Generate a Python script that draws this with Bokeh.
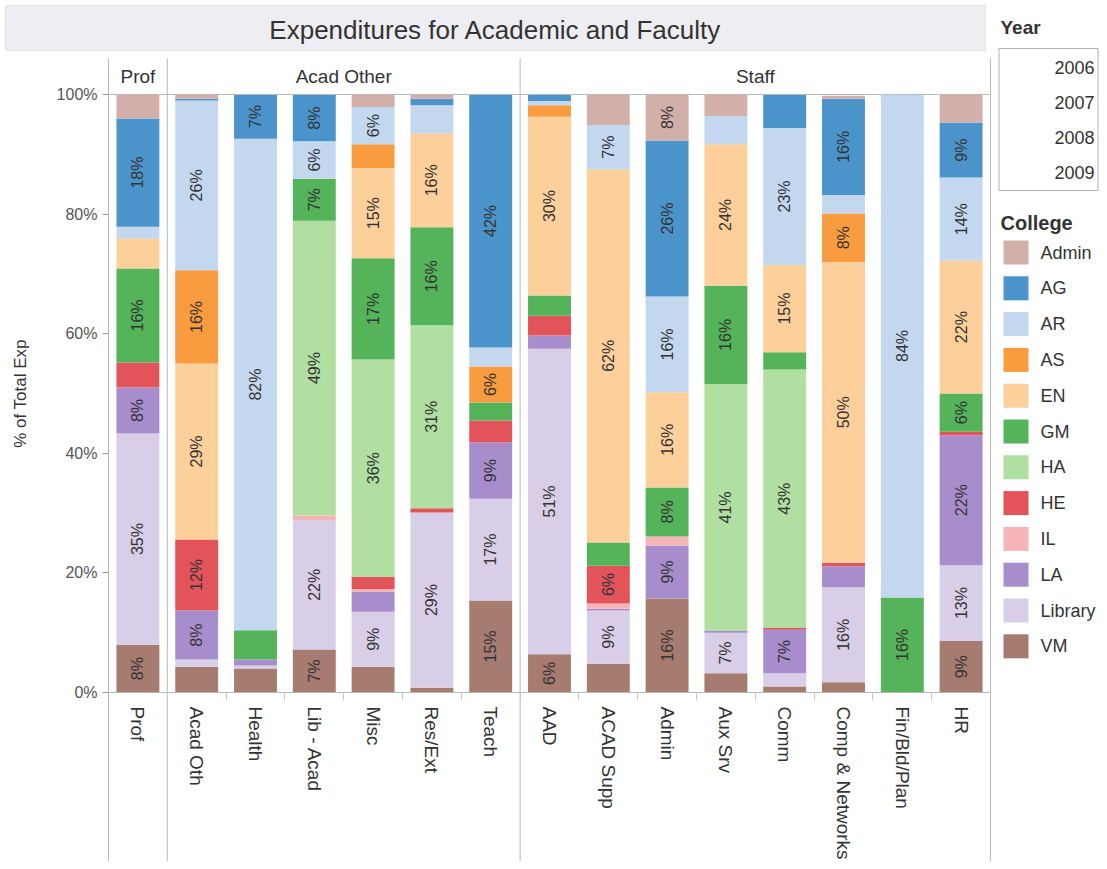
from math import pi
from bokeh.plotting import figure
from bokeh.models import ColumnDataSource, Range1d, FixedTicker, PrintfTickFormatter
from bokeh.core.properties import value
from bokeh.embed import file_html
from bokeh.resources import INLINE

# ---------------- data ----------------
categories = ["Prof", "Acad Oth", "Health", "Lib - Acad", "Misc", "Res/Ext", "Teach",
              "AAD", "ACAD Supp", "Admin", "Aux Srv", "Comm", "Comp & Networks",
              "Fin/Bld/Plan", "HR"]
group_names = ["Prof", "Acad Other", "Staff"]
group_sizes = [1, 6, 8]

colleges = ["Admin", "AG", "AR", "AS", "EN", "GM", "HA", "HE", "IL", "LA", "Library", "VM"]
colors = ["#d3afa9", "#4b93cb", "#c3d8ef", "#f99c40", "#fdcf9b", "#55b35a",
          "#b1dfa2", "#e3545a", "#f6b4b9", "#a88dcc", "#d9cee7", "#a67b70"]

# % of total expenditure, in category order
VM      = [8.0, 4.3, 4.0, 7.2, 4.3, 0.8, 15.4, 6.4, 4.8, 15.7, 3.2, 1.0, 1.7, 0.0, 8.6]
Library = [35.3, 1.2, 0.5, 21.6, 9.2, 29.3, 17.0, 51.1, 8.9, 0.0, 6.8, 2.2, 15.9, 0.0, 12.7]
LA      = [7.7, 8.2, 1.0, 0.0, 3.3, 0.0, 9.4, 2.2, 0.3, 8.9, 0.3, 7.3, 3.5, 0.0, 21.7]
IL      = [0.0, 0.0, 0.0, 0.8, 0.5, 0.0, 0.0, 0.0, 0.9, 1.5, 0.0, 0.0, 0.0, 0.0, 0.0]
HE      = [4.2, 11.9, 0.0, 0.0, 2.0, 0.7, 3.7, 3.3, 6.3, 0.0, 0.0, 0.3, 0.6, 0.0, 0.6]
HA      = [0.0, 0.0, 0.0, 49.3, 36.4, 30.6, 0.0, 0.0, 0.0, 0.0, 41.3, 43.2, 0.0, 0.0, 0.0]
GM      = [15.7, 0.0, 4.9, 7.0, 16.9, 16.4, 3.0, 3.4, 3.9, 8.2, 16.4, 2.9, 0.0, 15.9, 6.4]
EN      = [5.0, 29.4, 0.0, 0.0, 15.1, 15.7, 0.0, 29.9, 62.4, 15.9, 23.7, 14.6, 50.3, 0.0, 22.2]
AS      = [0.0, 15.6, 0.0, 0.0, 4.0, 0.0, 6.0, 1.9, 0.0, 0.0, 0.0, 0.0, 8.1, 0.0, 0.0]
AR      = [2.0, 28.4, 82.2, 6.3, 6.2, 4.7, 3.2, 0.7, 7.4, 16.0, 4.7, 22.9, 3.1, 84.1, 13.9]
AG      = [18.1, 0.3, 7.4, 7.7, 0.0, 1.1, 42.3, 1.1, 0.0, 26.1, 0.0, 5.6, 16.1, 0.0, 9.2]
Admin   = [4.0, 0.7, 0.0, 0.0, 2.0, 0.7, 0.0, 0.0, 5.0, 7.7, 3.6, 0.0, 0.5, 0.0, 4.7]

y_ticks = [0, 20, 40, 60, 80, 100]
years = ["2006", "2007", "2008", "2009"]
title_text = "Expenditures for Academic and Faculty"
y_title = "% of Total Exp"
label_overrides = {("Acad Oth", "AR"): "26%"}
label_min = 5.9

values = {"Admin": Admin, "AG": AG, "AR": AR, "AS": AS, "EN": EN, "GM": GM, "HA": HA,
          "HE": HE, "IL": IL, "LA": LA, "Library": Library, "VM": VM}

# ---------------- layout (page pixels) ----------------
W, H = 1099, 861
N = len(categories)
FR_L, FR_R = 108, 990         # bar area left/right
FR_T, FR_B = 94, 692          # 100% / 0% lines
HEAD_T = 58                   # top of group header band
SLOT = (FR_R - FR_L) / N
PCT = (FR_B - FR_T) / 100.0


def X(px):
    return (px - FR_L) / SLOT


def Y(py):
    return (FR_B - py) / PCT


FONT_NAME = "Liberation Sans"
FONT = value(FONT_NAME)
LINE = "#b9b9b9"
TXT = "#333333"

p = figure(width=W, height=H, x_range=Range1d(X(0), X(W)), y_range=Range1d(Y(H), Y(0)),
           output_backend="svg", toolbar_location=None, min_border=0,
           background_fill_color="white", border_fill_color="white")
p.title.visible = False
p.outline_line_color = None
p.xgrid.visible = False
p.ygrid.visible = False

# ---- bars
xc = [i + 0.5 for i in range(N)]
stack_order = list(reversed(colleges))  # bottom -> top
stack_colors = list(reversed(colors))
src = ColumnDataSource(dict(x=xc, **values))
p.vbar_stack(stack_order, x="x", width=0.73, color=stack_colors, line_color=None, source=src)

# ---- segment labels
lx, ly, lt = [], [], []
for i, cat in enumerate(categories):
    base = 0.0
    for c in stack_order:
        v = values[c][i]
        if v >= label_min:
            lx.append(xc[i])
            ly.append(base + v / 2)
            lt.append(label_overrides.get((cat, c), f"{round(v)}%"))
        base += v
p.text(x="x", y="y", text="t", source=ColumnDataSource(dict(x=lx, y=ly, t=lt)),
       angle=pi / 2, text_align="center", text_baseline="middle",
       text_font=FONT, text_font_size="16px", text_color=TXT)

# ---- group headers and separator lines
hx, ht, bounds = [], [], [0]
pos = 0
for name, n in zip(group_names, group_sizes):
    hx.append(pos + n / 2)
    ht.append(name)
    pos += n
    bounds.append(pos)
p.text(x=hx, y=[(100 + Y(HEAD_T)) / 2] * len(hx), text=ht, text_align="center",
       text_baseline="middle", text_font=FONT, text_font_size="19px", text_color=TXT)
seps = bounds[1:]
p.segment(x0=seps, x1=seps, y0=[Y(HEAD_T)] * len(seps), y1=[Y(H)] * len(seps),
          line_color=LINE, line_width=1)
p.segment(x0=[0], x1=[N], y0=[100], y1=[100], line_color=LINE, line_width=1)

# ---- axes (drawn inside the canvas at fixed data locations)
yax = p.yaxis[0]
yax.fixed_location = 0
yax.bounds = (Y(H), Y(HEAD_T))
yax.ticker = FixedTicker(ticks=y_ticks)
yax.formatter = PrintfTickFormatter(format="%d%%")
yax.major_label_text_font = FONT_NAME
yax.major_label_text_font_size = "16px"
yax.major_label_text_color = "#555555"
yax.major_tick_line_color = "#999999"
yax.major_tick_out = 6
yax.major_tick_in = 0
yax.minor_tick_line_color = None
yax.axis_line_color = LINE

xax = p.xaxis[0]
xax.fixed_location = 0
xax.bounds = (0, N)
xax.ticker = FixedTicker(ticks=xc, minor_ticks=list(range(1, N)))
xax.major_label_overrides = {x: c for x, c in zip(xc, categories)}
xax.major_label_orientation = "vertical"
xax.major_label_text_font = FONT_NAME
xax.major_label_text_font_size = "19px"
xax.major_label_text_color = TXT
xax.major_label_standoff = 6
xax.major_tick_line_color = None
xax.minor_tick_line_color = "#c8c8c8"
xax.minor_tick_out = 8
xax.minor_tick_in = 0
xax.axis_line_color = LINE

p.text(x=[X(20)], y=[Y(393)], text=[y_title], angle=pi / 2, text_align="center",
       text_baseline="middle", text_font=FONT, text_font_size="17px", text_color=TXT)

# ---- title banner
p.quad(left=[X(5)], right=[X(985)], top=[Y(5)], bottom=[Y(50)],
       fill_color="#eeeef2", line_color="#e2e2e6")
p.text(x=[X(495)], y=[Y(29)], text=[title_text], text_align="center", text_baseline="middle",
       text_font=FONT, text_font_size="26px", text_color=TXT)

# ---- Year filter
LGX = 998
p.text(x=[X(LGX + 2)], y=[Y(27)], text=["Year"], text_baseline="middle", text_font=FONT,
       text_font_size="19px", text_font_style="bold", text_color=TXT)
p.quad(left=[X(LGX + 0.5)], right=[X(W - 1.5)], top=[Y(48)], bottom=[Y(190)],
       fill_color=None, line_color="#b0b0b0")
p.text(x=[X(W - 5)] * len(years), y=[Y(67 + 35 * j) for j in range(len(years))], text=years,
       text_align="right", text_baseline="middle", text_font=FONT, text_font_size="18px",
       text_color=TXT)

# ---- College legend
p.text(x=[X(LGX + 2)], y=[Y(222)], text=["College"], text_baseline="middle", text_font=FONT,
       text_font_size="20px", text_font_style="bold", text_color=TXT)
lyc = [252 + 35.8 * j for j in range(len(colleges))]
p.quad(left=[X(LGX + 5)] * len(colleges), right=[X(LGX + 30)] * len(colleges),
       top=[Y(c - 12) for c in lyc], bottom=[Y(c + 12) for c in lyc],
       fill_color=colors, line_color=None)
p.text(x=[X(LGX + 42)] * len(colleges), y=[Y(c) for c in lyc], text=colleges,
       text_baseline="middle", text_font=FONT, text_font_size="18px", text_color=TXT)

open("out.html", "w").write(file_html(p, INLINE))
